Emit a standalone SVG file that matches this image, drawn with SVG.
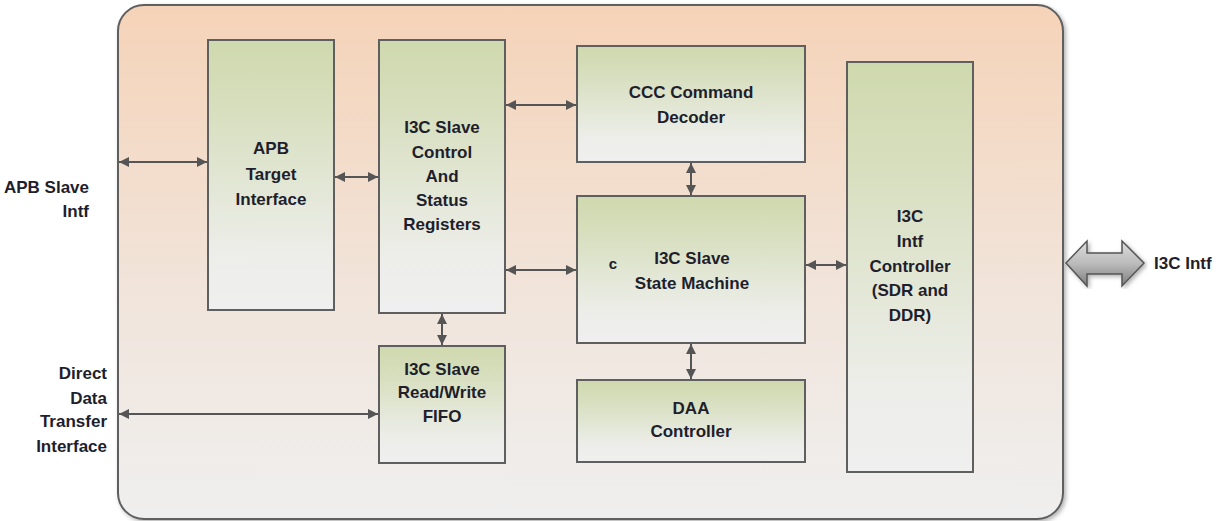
<svg xmlns="http://www.w3.org/2000/svg" width="1225" height="521" viewBox="0 0 1225 521">
<style>
.box{stroke:#5f5f5f;stroke-width:2;fill:url(#gbox)}
.lbl{font-family:"Liberation Sans",Arial,sans-serif;font-weight:bold;font-size:17px;fill:#1e1e2c;text-anchor:middle;dominant-baseline:central}
.side{font-family:"Liberation Sans",Arial,sans-serif;font-weight:bold;font-size:17px;fill:#1e1e2c;text-anchor:end;dominant-baseline:central}
.con{stroke:#555;stroke-width:2;fill:none;marker-start:url(#ah);marker-end:url(#ah)}
</style>
<defs>
<linearGradient id="gpanel" x1="0" y1="0" x2="0" y2="1">
<stop offset="0" stop-color="#F5D3B8"/>
<stop offset="0.55" stop-color="#F1E4DA"/>
<stop offset="1" stop-color="#EFEFEF"/>
</linearGradient>
<linearGradient id="gbox" x1="0" y1="0" x2="0" y2="1">
<stop offset="0" stop-color="#CFD9AE"/>
<stop offset="0.2" stop-color="#D5DDBA"/>
<stop offset="0.8" stop-color="#EDEEEA"/>
<stop offset="1" stop-color="#EFEFEF"/>
</linearGradient>
<linearGradient id="gbig" x1="0" y1="0" x2="0" y2="1">
<stop offset="0" stop-color="#DDDDDD"/>
<stop offset="0.5" stop-color="#BBBBBB"/>
<stop offset="1" stop-color="#7E7E7E"/>
</linearGradient>
<filter id="sh" x="-5%" y="-5%" width="110%" height="110%">
<feDropShadow dx="2" dy="2" stdDeviation="2" flood-color="#000" flood-opacity="0.3"/>
</filter>
<marker id="ah" viewBox="0 0 10 10" refX="10" refY="5" markerWidth="5.5" markerHeight="5" orient="auto-start-reverse" markerUnits="strokeWidth">
<path d="M0,0 L10,5 L0,10 z" fill="#555"/>
</marker>
</defs>

<g id="panel">
<rect x="118" y="5" width="945" height="514" rx="26" ry="26" fill="url(#gpanel)" stroke="#5f5f5f" stroke-width="2" filter="url(#sh)"/>
</g>

<g id="apb">
<rect class="box" x="208" y="40" width="126" height="270"/>
<text class="lbl" x="271" y="148">APB</text>
<text class="lbl" x="271" y="174">Target</text>
<text class="lbl" x="271" y="199">Interface</text>
</g>

<g id="regs">
<rect class="box" x="379" y="40" width="126" height="273"/>
<text class="lbl" x="442" y="127">I3C Slave</text>
<text class="lbl" x="442" y="152">Control</text>
<text class="lbl" x="442" y="176">And</text>
<text class="lbl" x="442" y="200">Status</text>
<text class="lbl" x="442" y="224">Registers</text>
</g>

<g id="fifo">
<rect class="box" x="379" y="346" width="126" height="117"/>
<text class="lbl" x="442" y="369">I3C Slave</text>
<text class="lbl" x="442" y="392">Read/Write</text>
<text class="lbl" x="442" y="416">FIFO</text>
</g>

<g id="ccc">
<rect class="box" x="577" y="46" width="228" height="116"/>
<text class="lbl" x="691" y="92">CCC Command</text>
<text class="lbl" x="691" y="117">Decoder</text>
</g>

<g id="fsm">
<rect class="box" x="577" y="196" width="228" height="147"/>
<text class="lbl" x="613" y="263" style="font-size:15px">c</text>
<text class="lbl" x="692" y="258">I3C Slave</text>
<text class="lbl" x="692" y="283">State Machine</text>
</g>

<g id="daa">
<rect class="box" x="577" y="380" width="228" height="82"/>
<text class="lbl" x="691" y="408">DAA</text>
<text class="lbl" x="691" y="431">Controller</text>
</g>

<g id="i3cctrl">
<rect class="box" x="847" y="62" width="126" height="410"/>
<text class="lbl" x="910" y="216">I3C</text>
<text class="lbl" x="910" y="241">Intf</text>
<text class="lbl" x="910" y="266">Controller</text>
<text class="lbl" x="910" y="290">(SDR and</text>
<text class="lbl" x="910" y="315">DDR)</text>
</g>

<g id="ext-labels">
<text class="side" x="89" y="187">APB Slave</text>
<text class="side" x="89" y="211">Intf</text>
<text class="side" x="107" y="373">Direct</text>
<text class="side" x="107" y="398">Data</text>
<text class="side" x="107" y="421">Transfer</text>
<text class="side" x="107" y="446">Interface</text>
<text class="lbl" x="1154" y="263" style="text-anchor:start">I3C Intf</text>
</g>

<g id="connectors">
<line class="con" x1="119" y1="162" x2="207" y2="162"/>
<line class="con" x1="335" y1="177" x2="378" y2="177"/>
<line class="con" x1="506" y1="105" x2="576" y2="105"/>
<line class="con" x1="506" y1="270" x2="576" y2="270"/>
<line class="con" x1="806" y1="265" x2="846" y2="265"/>
<line class="con" x1="691" y1="163" x2="691" y2="195"/>
<line class="con" x1="691" y1="344" x2="691" y2="379"/>
<line class="con" x1="442" y1="314" x2="442" y2="345"/>
<line class="con" x1="119" y1="414" x2="378" y2="414"/>
<path d="M1066,263 L1087,241 L1087,253 L1122,253 L1122,241 L1144,263 L1122,286 L1122,274 L1087,274 L1087,286 Z" fill="url(#gbig)" stroke="#555" stroke-width="1.5" filter="url(#sh)"/>
</g>
</svg>
